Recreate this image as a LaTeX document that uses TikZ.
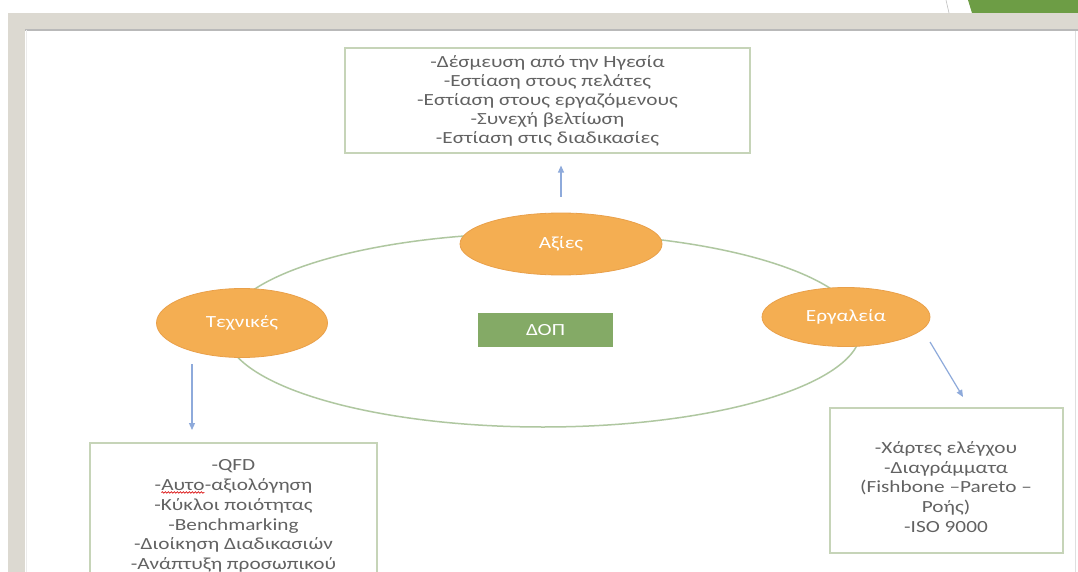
\documentclass[tikz,border=0pt]{standalone}
\usepackage{fontspec}
\setmainfont[FakeStretch=1.25]{Carlito}
\usetikzlibrary{shapes.geometric,arrows.meta,calc,decorations.pathmorphing}
\definecolor{framebeige}{HTML}{DCD9D1}
\definecolor{tabgreen}{HTML}{6D9D45}
\definecolor{orangefill}{HTML}{F4AE52}
\definecolor{orangedraw}{HTML}{E9A04A}
\definecolor{dopgreen}{HTML}{84AA66}
\definecolor{boxline}{HTML}{C6D4B8}
\definecolor{ringline}{HTML}{AFC7A0}
\definecolor{arrowblue}{HTML}{8EAADB}
\definecolor{txtgray}{HTML}{626262}
\newcommand\redwavy[1]{\tikz[baseline=(wv.base)]{\node[inner sep=0pt,outer sep=0pt,minimum width=0pt,minimum height=0pt,draw=none,fill=none,align=left,text=txtgray] (wv) {#1};\draw[red!85!black,line width=0.6pt,decorate,decoration={snake,amplitude=0.8pt,segment length=3pt}] ([yshift=-2pt]wv.base west) -- ([yshift=-2pt]wv.base east);}}
\begin{document}
\begin{tikzpicture}[x=1pt,y=-1pt,
  txtbox/.style={draw=boxline,line width=1.1pt,fill=white,align=center,text=txtgray,inner sep=0pt,
    font=\fontsize{17pt}{19pt}\selectfont},
  bubble/.style={ellipse,fill=orangefill,draw=orangedraw,line width=0.8pt,inner sep=0pt,text=white,
    font=\fontsize{17pt}{19pt}\selectfont},
  arr/.style={draw=arrowblue,line width=1.2pt,-{Triangle[length=7pt,width=6pt]}}]
\useasboundingbox (0,0) rectangle (1078,572);
% slide frame
\fill[white] (0,0) rectangle (1078,572);
\fill[framebeige] (8,13) rectangle (1078,572);
\fill[white] (25,29) rectangle (1078,572);
\draw[gray!55,line width=1.5pt] (25,30) -- (1078,30);
\draw[gray!15,line width=1pt] (26,30) -- (26,572);
\draw[gray!25,line width=0.6pt] (1075,31) -- (1075,572);
\fill[tabgreen] (968,0) -- (1078,0) -- (1078,13) -- (972,13) -- cycle;
\draw[gray!50,line width=0.6pt] (946,0) -- (949,13);
% ring
\draw[ringline,line width=1.5pt] (543,330) ellipse [x radius=318, y radius=97];
% bubbles
\node[bubble,minimum width=202pt,minimum height=62pt] (ax) at (561,244) {Αξίες};
\node[bubble,minimum width=171pt,minimum height=69pt] (te) at (242,323) {Τεχνικές};
\node[bubble,minimum width=168pt,minimum height=59pt] (er) at (846,317) {Εργαλεία};
\node[fill=dopgreen,minimum width=135pt,minimum height=34pt,inner sep=0pt,text=white,
  font=\fontsize{17pt}{19pt}\selectfont] (dop) at (545.5,330) {ΔΟΠ};
% boxes
\node[txtbox,minimum width=405pt,minimum height=105pt,font=\fontsize{17pt}{19pt}\selectfont] (top) at (547.5,100.5)
  {-Δέσμευση από την Ηγεσία\\-Εστίαση στους πελάτες\\-Εστίαση στους εργαζόμενους\\-Συνεχή βελτίωση\\-Εστίαση στις διαδικασίες};
\node[txtbox,minimum width=287pt,minimum height=146pt,font=\fontsize{17pt}{19.8pt}\selectfont] (bl) at (233.5,516)
  {-QFD\\-\redwavy{Αυτο}-αξιολόγηση\\-Κύκλοι ποιότητας\\-Benchmarking\\-Διοίκηση Διαδικασιών\\-Ανάπτυξη προσωπικού};
\node[txtbox,minimum width=233pt,minimum height=145pt] (br) at (946.5,480.5) {};
\node[align=center,text=txtgray,inner sep=0pt,font=\fontsize{17pt}{19.7pt}\selectfont] (brt) at (946,487)
  {-Χάρτες ελέγχου\\-Διαγράμματα\\(Fishbone –Pareto –\\Ροής)\\-ISO 9000};
% arrows
\coordinate (tstart) at (192,364);
\coordinate (tend) at (192,430);
\coordinate (estart) at (930,342);
\coordinate (eend) at (963,397);
\draw[arr,shorten <=16pt,shorten >=12pt] (ax.north) -- (ax.north |- top.south);
\draw[arr] (tstart) -- (tend);
\draw[arr] (estart) -- (eend);
\end{tikzpicture}
\end{document}
